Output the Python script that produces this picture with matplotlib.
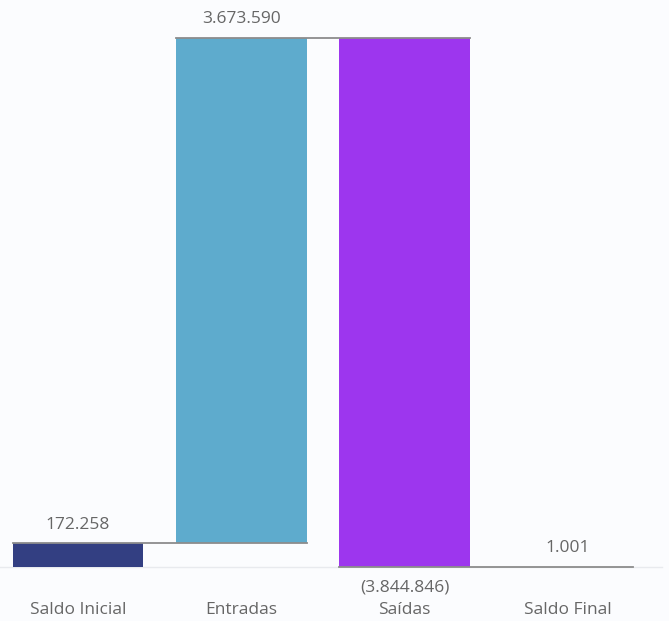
import matplotlib.pyplot as plt

categorias = ['Saldo Inicial', 'Entradas', 'Saídas', 'Saldo Final']
valores = [172258, 3673590, -3844846, 1001]
cores = ['#333f82', '#5eabcd', '#9d36ee', '#333f82']

def fmt(v):
    s = f'{abs(v):,}'.replace(',', '.')
    return f'({s})' if v < 0 else s

plt.rcParams['font.family'] = ['Open Sans', 'DejaVu Sans']

fig = plt.figure(figsize=(6.69, 6.21), dpi=100, facecolor='#fbfcfe')
ax = fig.add_axes([0, 0, 1, 1])
ax.set_facecolor('#fbfcfe')

# calcula base e altura de cada barra (waterfall)
bases = []
alturas = []
acum = 0
for i, v in enumerate(valores):
    if i == 0 or i == len(valores) - 1:
        bases.append(0)
        alturas.append(v)
        acum = v if i == 0 else acum
    else:
        bases.append(acum if v >= 0 else acum + v)
        alturas.append(abs(v))
        acum += v

x = list(range(len(categorias)))
w = 0.8
ax.bar(x, alturas, bottom=bases, width=w, color=cores, zorder=2)

# linhas de conexao
niveis = []
acum = 0
for i, v in enumerate(valores[:-1]):
    acum = v if i == 0 else acum + v
    niveis.append(acum)
for i, n in enumerate(niveis):
    ax.plot([i - w / 2, i + 1 + w / 2], [n, n], color='#8c8c8c', lw=1.3, zorder=3)

# linha base
ax.axhline(0, xmin=0, xmax=0.99, color='#e8eaee', lw=1, zorder=1)

# rotulos de valor
topo = max(b + h for b, h in zip(bases, alturas))
off = topo * 0.0355
fs = 12.5
for i, v in enumerate(valores):
    if v < 0:
        ax.text(i, -topo * 0.0385, fmt(v), ha='center', va='center', fontsize=fs, color='#666666')
    else:
        ax.text(i, bases[i] + alturas[i] + off, fmt(v), ha='center', va='center', fontsize=fs, color='#666666')

for i, c in enumerate(categorias):
    ax.text(i, -topo * 0.081, c, ha='center', va='center', fontsize=fs, color='#666666')

ax.set_xlim(-0.478, 3.62)
ax.set_ylim(-392600, 4122000)
ax.axis('off')

fig.savefig('out.png', dpi=100, facecolor=fig.get_facecolor())
